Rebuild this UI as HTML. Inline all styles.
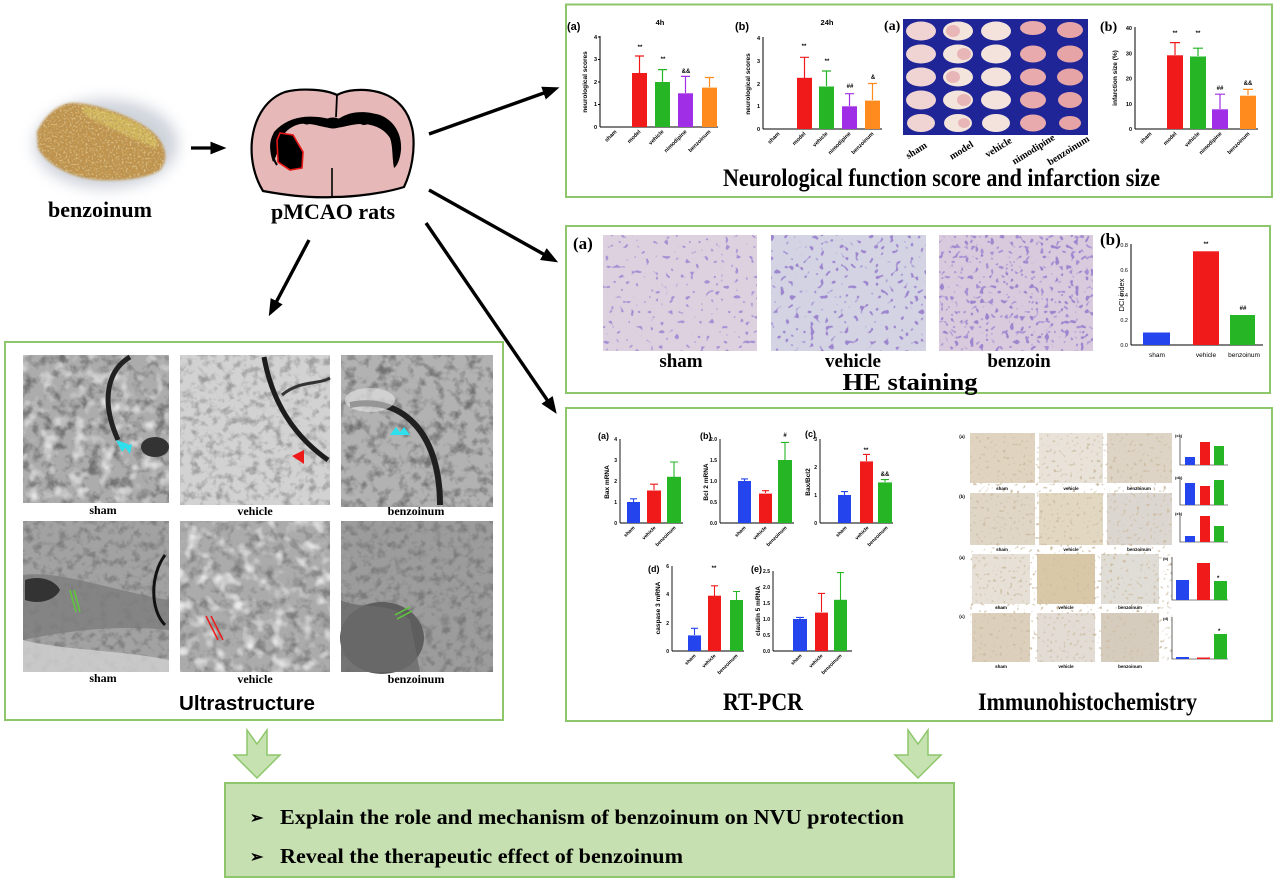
<!DOCTYPE html>
<html><head><meta charset="utf-8"><style>
html,body{margin:0;padding:0;background:#fff;}
svg{display:block;}
.ser{font-family:"Liberation Serif",serif;font-weight:bold;}
.san{font-family:"Liberation Sans",sans-serif;}
</style></head><body>
<svg width="1277" height="886" viewBox="0 0 1277 886" xmlns="http://www.w3.org/2000/svg">
<defs>
<marker id="ah" markerWidth="5" markerHeight="4" refX="3.6" refY="2" orient="auto" markerUnits="strokeWidth"><path d="M0,0 L5,2 L0,4 z" fill="#000"/></marker>
<filter id="blur6" x="-30%" y="-30%" width="160%" height="160%"><feGaussianBlur stdDeviation="7"/></filter>
<filter id="blur1" x="-10%" y="-10%" width="120%" height="120%"><feGaussianBlur stdDeviation="1.2"/></filter>
<filter id="grainTan" x="0" y="0" width="1" height="1"><feTurbulence type="fractalNoise" baseFrequency="0.5" numOctaves="2" seed="4"/><feColorMatrix type="matrix" values="0 0 0 0 0.42  0 0 0 0 0.28  0 0 0 0 0.12  4 0 0 0 -1.9"/><feComposite in2="SourceGraphic" operator="in"/></filter>
<filter id="grainLight" x="0" y="0" width="1" height="1"><feTurbulence type="fractalNoise" baseFrequency="0.5" numOctaves="2" seed="8"/><feColorMatrix type="matrix" values="0 0 0 0 0.92  0 0 0 0 0.80  0 0 0 0 0.45  4 0 0 0 -2.0"/><feComposite in2="SourceGraphic" operator="in"/></filter>
<filter id="emDark" x="0" y="0" width="1" height="1"><feTurbulence type="fractalNoise" baseFrequency="0.09" numOctaves="3" seed="7"/><feColorMatrix type="matrix" values="0 0 0 0 0.1  0 0 0 0 0.1  0 0 0 0 0.1  3 0 0 0 -1.4"/></filter>
<filter id="emDark2" x="0" y="0" width="1" height="1"><feTurbulence type="fractalNoise" baseFrequency="0.12" numOctaves="3" seed="11"/><feColorMatrix type="matrix" values="0 0 0 0 0.15  0 0 0 0 0.15  0 0 0 0 0.15  3 0 0 0 -1.4"/></filter>
<filter id="emLight" x="0" y="0" width="1" height="1"><feTurbulence type="fractalNoise" baseFrequency="0.07" numOctaves="2" seed="3"/><feColorMatrix type="matrix" values="0 0 0 0 0.93  0 0 0 0 0.93  0 0 0 0 0.93  3 0 0 0 -1.5"/></filter>
<filter id="heDots" x="0" y="0" width="1" height="1"><feTurbulence type="fractalNoise" baseFrequency="0.2" numOctaves="1" seed="5"/><feColorMatrix type="matrix" values="0 0 0 0 0.38  0 0 0 0 0.28  0 0 0 0 0.66  14 0 0 0 -9.0"/></filter>
<filter id="heDots2" x="0" y="0" width="1" height="1"><feTurbulence type="fractalNoise" baseFrequency="0.2" numOctaves="1" seed="9"/><feColorMatrix type="matrix" values="0 0 0 0 0.34  0 0 0 0 0.24  0 0 0 0 0.62  14 0 0 0 -8.6"/></filter>
<filter id="ihcDots" x="0" y="0" width="1" height="1"><feTurbulence type="fractalNoise" baseFrequency="0.3" numOctaves="1" seed="2"/><feColorMatrix type="matrix" values="0 0 0 0 0.62  0 0 0 0 0.52  0 0 0 0 0.38  8 0 0 0 -4.9"/></filter>
</defs>

<!-- ================= benzoinum blob ================= -->
<ellipse cx="106" cy="144" rx="72" ry="45" fill="#c3c9d3" filter="url(#blur6)" opacity="0.8"/>
<path d="M37,132 C45,115 60,102 75,103 C95,104 130,115 150,130 C165,142 170,158 160,170 C145,180 110,182 90,179 C65,175 45,162 38,148 Z" fill="#c0934c" filter="url(#blur1)"/>
<path d="M82,106 C100,108 130,116 150,132 C158,140 160,146 156,148 C135,140 110,128 90,118 C84,114 80,110 82,106 Z" fill="#d6bd5c" opacity="0.85" filter="url(#blur1)"/>
<path d="M37,132 C45,115 60,102 75,103 C95,104 130,115 150,130 C165,142 170,158 160,170 C145,180 110,182 90,179 C65,175 45,162 38,148 Z" fill="#000" filter="url(#grainTan)" opacity="0.6"/>
<path d="M37,132 C45,115 60,102 75,103 C95,104 130,115 150,130 C165,142 170,158 160,170 C145,180 110,182 90,179 C65,175 45,162 38,148 Z" fill="#000" filter="url(#grainLight)" opacity="0.5"/>
<text x="100" y="217" class="ser" font-size="22" text-anchor="middle">benzoinum</text>

<!-- small arrow -->
<line x1="191" y1="148" x2="222" y2="148" stroke="#000" stroke-width="3.2" marker-end="url(#ah)"/>

<!-- ================= brain ================= -->
<path d="M337,95 C325,89 300,88 285,92 C268,98 255,115 252,140 C250,160 255,178 263,191 C290,196 315,198 333,197 C355,197 385,193 404,187 C412,170 415,150 413,133 C410,112 398,97 378,92 C362,88 346,90 337,95 Z" fill="#e6b8b8" stroke="#000" stroke-width="2.2"/>
<line x1="337" y1="95" x2="336" y2="117" stroke="#000" stroke-width="1.8"/>
<line x1="332" y1="168" x2="332" y2="197" stroke="#000" stroke-width="1.6"/>
<path d="M273,162 C268,148 270,138 275,131 C285,120 300,115 318,117 C328,118 333,121 340,118 C350,112 362,110 380,115 C395,121 402,135 401,150 C400,160 397,166 394,168 C392,158 393,146 390,138 C384,128 372,124 362,124 C350,124 343,128 333,128 C322,128 312,122 300,124 C288,127 281,135 279,146 C277,153 276,158 273,162 Z" fill="#000"/>
<path d="M279,150 C280,138 288,128 300,126 C312,124 322,130 333,130 C343,130 350,126 362,126 C372,126 382,130 387,138 C391,146 390,156 392,164 C388,156 388,146 384,140 C378,132 370,130 362,131 C350,132 343,135 333,135 C322,135 312,130 302,131 C292,133 285,140 282,148 Z" fill="#e6b8b8"/>
<ellipse cx="333" cy="123" rx="9" ry="5.5" fill="#000"/>
<ellipse cx="307" cy="121" rx="5" ry="3.5" fill="#000"/>
<ellipse cx="364" cy="121" rx="5" ry="4" fill="#000"/>
<path d="M275,132 C270,145 272,158 277,165" fill="none" stroke="#000" stroke-width="2"/>
<path d="M280,133 L293,135 L303,152 L302,168 L290,170 L278,162 L277,140 Z" fill="#000" stroke="#e81515" stroke-width="1.6"/>
<text x="333" y="219" class="ser" font-size="22" text-anchor="middle">pMCAO rats</text>

<!-- black arrows -->
<g stroke="#000" stroke-width="3.4" fill="none">
<line x1="429" y1="134" x2="555" y2="89" marker-end="url(#ah)"/>
<line x1="429" y1="190" x2="554" y2="260" marker-end="url(#ah)"/>
<line x1="426" y1="223" x2="554" y2="410" marker-end="url(#ah)"/>
<line x1="309" y1="240" x2="271" y2="312" marker-end="url(#ah)"/>
</g>

<!-- ================= TOP BOX ================= -->
<rect x="566" y="4.5" width="706" height="192.5" fill="none" stroke="#8dc66b" stroke-width="2"/>

<g class="san" font-weight="bold">
<text x="567" y="30" font-size="11">(a)</text>
<text x="660" y="25" font-size="7.5" text-anchor="middle">4h</text>
<text transform="translate(587,82) rotate(-90)" font-size="6.5" text-anchor="middle">neurological scores</text>
<g font-size="5.5" text-anchor="end">
<text x="597" y="39">4</text><text x="597" y="61">3</text><text x="597" y="84">2</text><text x="597" y="106">1</text><text x="597" y="129">0</text>
</g>
<g stroke="#000" stroke-width="1"><line x1="600" y1="36" x2="600" y2="127"/><line x1="600" y1="127" x2="718" y2="127"/>
<line x1="598" y1="37" x2="600" y2="37"/><line x1="598" y1="59.5" x2="600" y2="59.5"/><line x1="598" y1="82" x2="600" y2="82"/><line x1="598" y1="104.5" x2="600" y2="104.5"/></g>
<rect x="632" y="73" width="15" height="54" fill="#f01a1a"/>
<rect x="655" y="82" width="15" height="45" fill="#25b525"/>
<rect x="678" y="93.3" width="15" height="33.7" fill="#a02ee6"/>
<rect x="702" y="87.6" width="15" height="39.4" fill="#ff8a1e"/>
<g stroke-width="1.2" fill="none">
<path d="M639.5,73 V56 M635,56 H644" stroke="#f01a1a"/>
<path d="M662.5,82 V69.6 M658,69.6 H667" stroke="#25b525"/>
<path d="M685.5,93 V76.4 M681,76.4 H690" stroke="#a02ee6"/>
<path d="M709.5,87 V77.5 M705,77.5 H714" stroke="#ff8a1e"/>
</g>
<g font-size="6" text-anchor="middle"><text x="640" y="49">**</text><text x="663" y="61">**</text><text x="686" y="73">&amp;&amp;</text></g>
<g font-size="5.5" text-anchor="end">
<text transform="translate(617,132) rotate(-45)">sham</text>
<text transform="translate(641,132) rotate(-45)">model</text>
<text transform="translate(664,132) rotate(-45)">vehicle</text>
<text transform="translate(687,132) rotate(-45)">nimodipine</text>
<text transform="translate(711,132) rotate(-45)">benzoinum</text>
</g>
</g>

<g class="san" font-weight="bold">
<text x="735" y="30" font-size="11">(b)</text>
<text x="827" y="25" font-size="7.5" text-anchor="middle">24h</text>
<text transform="translate(750,84) rotate(-90)" font-size="6.5" text-anchor="middle">neurological scores</text>
<g font-size="5.5" text-anchor="end">
<text x="760" y="40">4</text><text x="760" y="63">3</text><text x="760" y="86">2</text><text x="760" y="108">1</text><text x="760" y="131">0</text>
</g>
<g stroke="#000" stroke-width="1"><line x1="763" y1="37" x2="763" y2="129"/><line x1="763" y1="129" x2="882" y2="129"/></g>
<rect x="797" y="77.8" width="15" height="51.2" fill="#f01a1a"/>
<rect x="819" y="86.5" width="15" height="42.5" fill="#25b525"/>
<rect x="842" y="106.3" width="15" height="22.7" fill="#a02ee6"/>
<rect x="865" y="100.6" width="15" height="28.4" fill="#ff8a1e"/>
<g stroke-width="1.2" fill="none">
<path d="M804.5,78 V57.3 M800,57.3 H809" stroke="#f01a1a"/>
<path d="M826.5,86 V71 M822,71 H831" stroke="#25b525"/>
<path d="M849.5,106 V93.7 M845,93.7 H854" stroke="#a02ee6"/>
<path d="M872.5,100 V83.5 M868,83.5 H877" stroke="#ff8a1e"/>
</g>
<g font-size="6" text-anchor="middle"><text x="804" y="48">**</text><text x="827" y="63">**</text><text x="850" y="88">##</text><text x="873" y="79">&amp;</text></g>
<g font-size="5.5" text-anchor="end">
<text transform="translate(780,134) rotate(-45)">sham</text>
<text transform="translate(806,134) rotate(-45)">model</text>
<text transform="translate(828,134) rotate(-45)">vehicle</text>
<text transform="translate(851,134) rotate(-45)">nimodipine</text>
<text transform="translate(874,134) rotate(-45)">benzoinum</text>
</g>
</g>

<!-- TTC image -->
<text x="884" y="30" class="ser" font-size="14">(a)</text>
<rect x="903" y="19" width="185" height="116" fill="#1f2596"/>
<g>
<g fill="#f0d3d3"><ellipse cx="921" cy="31" rx="15" ry="9.5"/><ellipse cx="921" cy="54" rx="15" ry="9.5"/><ellipse cx="921" cy="77" rx="15" ry="9.5"/><ellipse cx="921" cy="100" rx="15" ry="9.5"/><ellipse cx="921" cy="123" rx="14" ry="9"/></g>
<g fill="#f3e4dc"><ellipse cx="958" cy="31" rx="15" ry="9.5"/><ellipse cx="958" cy="54" rx="15" ry="9.5"/><ellipse cx="958" cy="77" rx="15" ry="9.5"/><ellipse cx="958" cy="100" rx="15" ry="9.5"/><ellipse cx="958" cy="123" rx="14" ry="9"/></g>
<g fill="#e9b6b8"><ellipse cx="953" cy="31" rx="7" ry="6"/><ellipse cx="964" cy="54" rx="7" ry="6"/><ellipse cx="953" cy="77" rx="7" ry="6"/><ellipse cx="964" cy="100" rx="7" ry="6"/><ellipse cx="964" cy="123" rx="6" ry="5"/></g>
<g fill="#f3e3dc"><ellipse cx="996" cy="31" rx="15" ry="9.5"/><ellipse cx="996" cy="54" rx="15" ry="9.5"/><ellipse cx="996" cy="77" rx="15" ry="9.5"/><ellipse cx="996" cy="100" rx="15" ry="9.5"/><ellipse cx="996" cy="123" rx="14" ry="9"/></g>
<g fill="#e8aaac"><ellipse cx="1033" cy="28" rx="13" ry="7"/><ellipse cx="1033" cy="54" rx="13" ry="8.5"/><ellipse cx="1033" cy="77" rx="13" ry="8.5"/><ellipse cx="1033" cy="100" rx="13" ry="8.5"/><ellipse cx="1033" cy="123" rx="13" ry="8.5"/></g>
<g fill="#e6a4a6"><ellipse cx="1070" cy="30" rx="13" ry="8"/><ellipse cx="1070" cy="54" rx="13" ry="8.5"/><ellipse cx="1070" cy="77" rx="13" ry="8.5"/><ellipse cx="1070" cy="100" rx="12" ry="8"/><ellipse cx="1070" cy="123" rx="11" ry="7"/></g>
</g>
<g class="ser" font-size="10" text-anchor="middle">
<text transform="translate(918,153) rotate(-32)">sham</text>
<text transform="translate(963,153) rotate(-32)">model</text>
<text transform="translate(1000,150) rotate(-32)">vehicle</text>
<text transform="translate(1035,152) rotate(-32)">nimodipine</text>
<text transform="translate(1070,153) rotate(-32)">benzoinum</text>
</g>

<text x="1100" y="31" class="ser" font-size="14">(b)</text>
<g class="san" font-weight="bold">
<text transform="translate(1117,78) rotate(-90)" font-size="6.5" text-anchor="middle">infarction size (%)</text>
<g font-size="5.5" text-anchor="end">
<text x="1132" y="30">40</text><text x="1132" y="55.3">30</text><text x="1132" y="80.5">20</text><text x="1132" y="105.8">10</text><text x="1132" y="131">0</text>
</g>
<g stroke="#000" stroke-width="1"><line x1="1135" y1="27" x2="1135" y2="129"/><line x1="1135" y1="129" x2="1258" y2="129"/></g>
<rect x="1167" y="55.3" width="16" height="73.7" fill="#f01a1a"/>
<rect x="1190" y="56.5" width="16" height="72.5" fill="#25b525"/>
<rect x="1212" y="109.3" width="16" height="19.7" fill="#a02ee6"/>
<rect x="1240" y="95.7" width="16" height="33.3" fill="#ff8a1e"/>
<g stroke-width="1.2" fill="none">
<path d="M1175,55 V42.6 M1170,42.6 H1180" stroke="#f01a1a"/>
<path d="M1198,56 V48.2 M1193,48.2 H1203" stroke="#25b525"/>
<path d="M1220,109 V94.2 M1215,94.2 H1225" stroke="#a02ee6"/>
<path d="M1248,95 V89.4 M1243,89.4 H1253" stroke="#ff8a1e"/>
</g>
<g font-size="6" text-anchor="middle"><text x="1175" y="35">**</text><text x="1198" y="35">**</text><text x="1220" y="90">##</text><text x="1248" y="85">&amp;&amp;</text></g>
<g font-size="5.5" text-anchor="end">
<text transform="translate(1152,134) rotate(-45)">sham</text>
<text transform="translate(1177,134) rotate(-45)">model</text>
<text transform="translate(1200,134) rotate(-45)">vehicle</text>
<text transform="translate(1222,134) rotate(-45)">nimodipine</text>
<text transform="translate(1250,134) rotate(-45)">benzoinum</text>
</g>
</g>
<text x="723" y="186" class="ser" font-size="25" textLength="437" lengthAdjust="spacingAndGlyphs">Neurological function score and infarction size</text>

<!-- ================= HE BOX ================= -->
<rect x="566" y="226" width="704" height="167" fill="none" stroke="#8dc66b" stroke-width="2"/>
<text x="573" y="249" class="ser" font-size="17">(a)</text>
<rect x="603" y="235" width="154" height="116" fill="#ddd0df"/>
<rect x="603" y="235" width="154" height="116" filter="url(#heDots)"/>
<rect x="771" y="235" width="155" height="116" fill="#d3d3e4"/>
<rect x="771" y="235" width="155" height="116" filter="url(#heDots2)"/>
<rect x="939" y="235" width="154" height="116" fill="#d9cbdd"/>
<rect x="939" y="235" width="154" height="116" filter="url(#heDots2)"/>
<rect x="939" y="235" width="154" height="116" filter="url(#heDots)"/>
<g class="ser" font-size="19" text-anchor="middle">
<text x="681" y="367">sham</text><text x="853" y="367">vehicle</text><text x="1019" y="367">benzoin</text>
</g>
<text x="910" y="390" class="ser" font-size="24" text-anchor="middle" textLength="135" lengthAdjust="spacingAndGlyphs">HE staining</text>
<text x="1100" y="245" class="ser" font-size="17">(b)</text>
<g class="san">
<text transform="translate(1124,295) rotate(-90)" font-size="7.5" text-anchor="middle">DCI index</text>
<g font-size="5.5" text-anchor="end">
<text x="1128" y="247">0.8</text><text x="1128" y="272">0.6</text><text x="1128" y="297">0.4</text><text x="1128" y="322">0.2</text><text x="1128" y="347">0.0</text>
</g>
<g stroke="#000" stroke-width="1"><line x1="1131" y1="244" x2="1131" y2="345"/><line x1="1131" y1="345" x2="1263" y2="345"/></g>
<rect x="1143" y="332.5" width="27" height="12.5" fill="#2445ee"/>
<rect x="1193" y="251.3" width="26" height="93.7" fill="#f01a1a"/>
<rect x="1230" y="315" width="25" height="30" fill="#25b525"/>
<g font-size="6" text-anchor="middle" font-weight="bold"><text x="1206" y="246">**</text><text x="1243" y="310">##</text></g>
<g font-size="6.5" text-anchor="middle"><text x="1157" y="357">sham</text><text x="1206" y="357">vehicle</text><text x="1244" y="357">benzoinum</text></g>
</g>

<!-- ================= ULTRASTRUCTURE BOX ================= -->
<rect x="5" y="342" width="498" height="378" fill="none" stroke="#8dc66b" stroke-width="2"/>
<rect x="23" y="355" width="146" height="148" fill="#acacac"/>
<rect x="23" y="355" width="146" height="148" filter="url(#emDark)" opacity="0.7"/>
<rect x="23" y="355" width="146" height="148" filter="url(#emLight)" opacity="0.8"/>
<path d="M130,357 C108,370 100,400 118,440" fill="none" stroke="#222" stroke-width="5"/>
<ellipse cx="155" cy="447" rx="14" ry="10" fill="#333"/>
<path d="M116,440 l12,4 l-6,8 z M124,446 l8,-2 l-2,10 z" fill="#2ee0ee"/>

<rect x="180" y="355" width="150" height="150" fill="#d2d2d2"/>
<rect x="180" y="355" width="150" height="150" filter="url(#emDark2)" opacity="0.5"/>
<path d="M264,357 C270,390 285,430 328,460" fill="none" stroke="#1c1c1c" stroke-width="5"/>
<path d="M282,395 C300,380 318,385 330,378" fill="none" stroke="#333" stroke-width="3"/>
<path d="M292,456 l12,-6 l0,14 z" fill="#ee1a1a"/>

<rect x="341" y="355" width="152" height="152" fill="#b2b2b2"/>
<rect x="341" y="355" width="152" height="152" filter="url(#emDark)" opacity="0.7"/>
<path d="M350,405 C400,395 440,430 440,505" fill="none" stroke="#202020" stroke-width="6"/>
<ellipse cx="370" cy="400" rx="25" ry="12" fill="#e6e6e6" opacity="0.6"/>
<path d="M390,435 l6,-8 l6,8 z M398,435 l6,-8 l6,8 z" fill="#2ee0ee"/>

<rect x="23" y="521" width="146" height="151" fill="#a2a2a2"/>
<rect x="23" y="521" width="146" height="151" filter="url(#emDark2)" opacity="0.65"/>
<path d="M23,575 C60,570 110,590 169,600 L169,630 C120,625 70,630 23,640 Z" fill="#7d7d7d" opacity="0.8"/>
<path d="M25,580 C40,575 55,580 60,590 C55,600 40,605 25,600 Z" fill="#333"/>
<path d="M23,640 C60,650 120,650 169,660 L169,672 L23,672 Z" fill="#d2d2d2" opacity="0.8"/>
<path d="M165,555 C150,575 150,610 165,625" fill="none" stroke="#111" stroke-width="3"/>
<line x1="70" y1="590" x2="76" y2="612" stroke="#5ecb3a" stroke-width="1.5"/><line x1="74" y1="590" x2="80" y2="612" stroke="#5ecb3a" stroke-width="1.5"/>

<rect x="180" y="521" width="150" height="151" fill="#ababab"/>
<rect x="180" y="521" width="150" height="151" filter="url(#emDark)" opacity="0.55"/>
<rect x="180" y="521" width="150" height="151" filter="url(#emLight)" opacity="0.85"/>
<line x1="206" y1="616" x2="218" y2="640" stroke="#ee1a1a" stroke-width="1.5"/><line x1="211" y1="616" x2="223" y2="640" stroke="#ee1a1a" stroke-width="1.5"/>

<rect x="341" y="521" width="152" height="151" fill="#9c9c9c"/>
<rect x="341" y="521" width="152" height="151" filter="url(#emDark2)" opacity="0.65"/>
<ellipse cx="382" cy="638" rx="42" ry="36" fill="#5e5e5e"/>
<path d="M341,600 C360,610 390,600 410,620 L420,672 L341,672 Z" fill="#6a6a6a" opacity="0.8"/>
<line x1="395" y1="615" x2="410" y2="607" stroke="#5ecb3a" stroke-width="1.5"/><line x1="397" y1="619" x2="412" y2="611" stroke="#5ecb3a" stroke-width="1.5"/>
<g class="ser" font-size="12" text-anchor="middle">
<text x="103" y="514">sham</text><text x="255" y="515">vehicle</text><text x="416" y="515">benzoinum</text>
<text x="103" y="682">sham</text><text x="255" y="683">vehicle</text><text x="416" y="683">benzoinum</text>
</g>
<text x="247" y="710" class="san" font-weight="bold" font-size="20" text-anchor="middle" textLength="136" lengthAdjust="spacingAndGlyphs">Ultrastructure</text>

<!-- ================= RT-PCR / IHC BOX ================= -->
<rect x="566" y="408" width="706" height="313" fill="none" stroke="#8dc66b" stroke-width="2"/>

<g class="san" font-weight="bold">
<text x="598" y="439" font-size="9">(a)</text>
<text transform="translate(609,482) rotate(-90)" font-size="6.5" text-anchor="middle">Bax mRNA</text>
<g font-size="5" text-anchor="end"><text x="617" y="441">4</text><text x="617" y="462">3</text><text x="617" y="483">2</text><text x="617" y="504">1</text><text x="617" y="525">0</text></g>
<g stroke="#000" stroke-width="0.9"><line x1="620" y1="439" x2="620" y2="523"/><line x1="620" y1="523" x2="683" y2="523"/></g>
<rect x="627" y="502" width="13" height="21" fill="#2445ee"/>
<rect x="647" y="490.5" width="14" height="32.5" fill="#f01a1a"/>
<rect x="667" y="476.8" width="14" height="46.2" fill="#25b525"/>
<g stroke-width="1.1" fill="none"><path d="M633.5,502 V498.8 M630,498.8 H637" stroke="#2445ee"/><path d="M654,490 V484.2 M650,484.2 H658" stroke="#f01a1a"/><path d="M674,477 V462 M670,462 H678" stroke="#25b525"/></g>
<g font-size="5" text-anchor="end"><text transform="translate(635,528) rotate(-45)">sham</text><text transform="translate(656,528) rotate(-45)">vehicle</text><text transform="translate(676,528) rotate(-45)">benzoinum</text></g>

<text x="700" y="439" font-size="9">(b)</text>
<text transform="translate(708,482) rotate(-90)" font-size="6.5" text-anchor="middle">Bcl 2 mRNA</text>
<g font-size="5" text-anchor="end"><text x="717" y="441">2.0</text><text x="717" y="462">1.5</text><text x="717" y="483">1.0</text><text x="717" y="504">0.5</text><text x="717" y="525">0.0</text></g>
<g stroke="#000" stroke-width="0.9"><line x1="720" y1="439" x2="720" y2="523"/><line x1="720" y1="523" x2="794" y2="523"/></g>
<rect x="738" y="481" width="13" height="42" fill="#2445ee"/>
<rect x="759" y="493.6" width="13" height="29.4" fill="#f01a1a"/>
<rect x="778" y="460" width="14" height="63" fill="#25b525"/>
<g stroke-width="1.1" fill="none"><path d="M744.5,481 V478.9 M741,478.9 H748" stroke="#2445ee"/><path d="M765.5,493 V490.7 M762,490.7 H769" stroke="#f01a1a"/><path d="M785,460 V442.4 M781,442.4 H789" stroke="#25b525"/></g>
<text x="785" y="437" font-size="6" text-anchor="middle">#</text>
<g font-size="5" text-anchor="end"><text transform="translate(746,528) rotate(-45)">sham</text><text transform="translate(767,528) rotate(-45)">vehicle</text><text transform="translate(787,528) rotate(-45)">benzoinum</text></g>

<text x="805" y="437" font-size="9">(c)</text>
<text transform="translate(810,482) rotate(-90)" font-size="6.5" text-anchor="middle">Bax/Bcl2</text>
<g font-size="5" text-anchor="end"><text x="817" y="441">3</text><text x="817" y="469">2</text><text x="817" y="497">1</text><text x="817" y="525">0</text></g>
<g stroke="#000" stroke-width="0.9"><line x1="820" y1="439" x2="820" y2="523"/><line x1="820" y1="523" x2="893" y2="523"/></g>
<rect x="838" y="495" width="13" height="28" fill="#2445ee"/>
<rect x="860" y="461.4" width="13" height="61.6" fill="#f01a1a"/>
<rect x="878" y="482.4" width="14" height="40.6" fill="#25b525"/>
<g stroke-width="1.1" fill="none"><path d="M844.5,495 V491.6 M841,491.6 H848" stroke="#2445ee"/><path d="M866.5,461 V454.4 M863,454.4 H870" stroke="#f01a1a"/><path d="M885,482 V479.6 M881,479.6 H889" stroke="#25b525"/></g>
<g font-size="6" text-anchor="middle"><text x="866" y="452">**</text><text x="885" y="476">&amp;&amp;</text></g>
<g font-size="5" text-anchor="end"><text transform="translate(847,528) rotate(-45)">sham</text><text transform="translate(869,528) rotate(-45)">vehicle</text><text transform="translate(888,528) rotate(-45)">benzoinum</text></g>

<text x="648" y="572" font-size="9">(d)</text>
<text transform="translate(660,608) rotate(-90)" font-size="6.5" text-anchor="middle">caspase 3 mRNA</text>
<g font-size="5" text-anchor="end"><text x="669" y="568">6</text><text x="669" y="596">4</text><text x="669" y="625">2</text><text x="669" y="653">0</text></g>
<g stroke="#000" stroke-width="0.9"><line x1="672" y1="566" x2="672" y2="651"/><line x1="672" y1="651" x2="744" y2="651"/></g>
<rect x="688" y="635.4" width="13" height="15.6" fill="#2445ee"/>
<rect x="708" y="595.7" width="13" height="55.3" fill="#f01a1a"/>
<rect x="730" y="600" width="13" height="51" fill="#25b525"/>
<g stroke-width="1.1" fill="none"><path d="M694.5,635 V628.3 M691,628.3 H698" stroke="#2445ee"/><path d="M714.5,596 V585.8 M711,585.8 H718" stroke="#f01a1a"/><path d="M736.5,600 V591.5 M733,591.5 H740" stroke="#25b525"/></g>
<text x="714" y="570" font-size="6" text-anchor="middle">**</text>
<g font-size="5" text-anchor="end"><text transform="translate(696,656) rotate(-45)">sham</text><text transform="translate(716,656) rotate(-45)">vehicle</text><text transform="translate(738,656) rotate(-45)">benzoinum</text></g>

<text x="751" y="572" font-size="9">(e)</text>
<text transform="translate(760,611) rotate(-90)" font-size="6.5" text-anchor="middle">claudin 5 mRNA</text>
<g font-size="5" text-anchor="end"><text x="770" y="573">2.5</text><text x="770" y="589">2.0</text><text x="770" y="605">1.5</text><text x="770" y="621">1.0</text><text x="770" y="637">0.5</text><text x="770" y="653">0.0</text></g>
<g stroke="#000" stroke-width="0.9"><line x1="773" y1="571" x2="773" y2="651"/><line x1="773" y1="651" x2="852" y2="651"/></g>
<rect x="793" y="619" width="14" height="32" fill="#2445ee"/>
<rect x="815" y="612.6" width="13" height="38.4" fill="#f01a1a"/>
<rect x="834" y="599.8" width="13" height="51.2" fill="#25b525"/>
<g stroke-width="1.1" fill="none"><path d="M800,619 V617.4 M796,617.4 H804" stroke="#2445ee"/><path d="M821.5,612 V593.4 M818,593.4 H825" stroke="#f01a1a"/><path d="M840.5,600 V572.6 M837,572.6 H844" stroke="#25b525"/></g>
<g font-size="5" text-anchor="end"><text transform="translate(802,656) rotate(-45)">sham</text><text transform="translate(823,656) rotate(-45)">vehicle</text><text transform="translate(842,656) rotate(-45)">benzoinum</text></g>
</g>
<text x="723" y="710" class="ser" font-size="25" textLength="80" lengthAdjust="spacingAndGlyphs">RT-PCR</text>

<!-- IHC -->
<g>
<rect x="970" y="433" width="65" height="50" fill="#e0d4c0"/><rect x="1039" y="433" width="64" height="50" fill="#e8e2d8"/><rect x="1107" y="433" width="65" height="50" fill="#ddd4c6"/>
<rect x="970" y="493" width="65" height="52" fill="#e0d6c6"/><rect x="1039" y="493" width="64" height="52" fill="#e2d8c2"/><rect x="1107" y="493" width="65" height="52" fill="#dcd6d0"/>
<rect x="972" y="554" width="58" height="50" fill="#e6e0d6"/><rect x="1037" y="554" width="58" height="50" fill="#d8c8a8"/><rect x="1101" y="554" width="58" height="50" fill="#e0dcd6"/>
<rect x="972" y="613" width="58" height="49" fill="#dcd0bc"/><rect x="1037" y="613" width="58" height="49" fill="#e2dcd4"/><rect x="1101" y="613" width="58" height="49" fill="#d6ccbe"/>
<g filter="url(#ihcDots)">
<rect x="970" y="433" width="65" height="50"/><rect x="1107" y="433" width="65" height="50"/>
<rect x="970" y="493" width="65" height="52"/><rect x="1039" y="493" width="64" height="52"/><rect x="1107" y="493" width="65" height="52"/>
<rect x="1037" y="554" width="58" height="50"/>
<rect x="972" y="613" width="58" height="49"/><rect x="1101" y="613" width="58" height="49"/>
</g>
</g>
<g class="san" font-size="4.5" font-weight="bold" text-anchor="middle">
<text x="962" y="438">(a)</text><text x="962" y="498">(b)</text><text x="962" y="559">(a)</text><text x="962" y="618">(c)</text>
<text x="1002" y="490">sham</text><text x="1071" y="490">vehicle</text><text x="1139" y="490">benzoinum</text>
<text x="1002" y="551">sham</text><text x="1071" y="551">vehicle</text><text x="1139" y="551">benzoinum</text>
<text x="1001" y="609">sham</text><text x="1066" y="609">vehicle</text><text x="1130" y="609">benzoinum</text>
<text x="1001" y="668">sham</text><text x="1066" y="668">vehicle</text><text x="1130" y="668">benzoinum</text>
</g>
<g stroke="#000" stroke-width="0.6" fill="none">
<path d="M1180,435 V465 H1228"/><path d="M1180,477 V505 H1228"/><path d="M1180,513 V542 H1228"/>
<path d="M1172,557 V600 H1228"/><path d="M1172,617 V659 H1228"/>
</g>
<g>
<rect x="1185" y="457" width="10" height="8" fill="#2445ee"/><rect x="1200" y="442" width="10" height="23" fill="#f01a1a"/><rect x="1214" y="446" width="10" height="19" fill="#25b525"/>
<rect x="1185" y="483" width="10" height="22" fill="#2445ee"/><rect x="1200" y="486" width="10" height="19" fill="#f01a1a"/><rect x="1214" y="480" width="10" height="25" fill="#25b525"/>
<rect x="1185" y="536" width="10" height="6" fill="#2445ee"/><rect x="1200" y="516" width="10" height="26" fill="#f01a1a"/><rect x="1214" y="526" width="10" height="16" fill="#25b525"/>
<rect x="1176" y="580" width="13" height="20" fill="#2445ee"/><rect x="1197" y="563" width="13" height="37" fill="#f01a1a"/><rect x="1214" y="581" width="13" height="19" fill="#25b525"/>
<rect x="1176" y="657" width="13" height="2" fill="#2445ee"/><rect x="1197" y="657.5" width="13" height="1.5" fill="#f01a1a"/><rect x="1214" y="634" width="13" height="25" fill="#25b525"/>
</g>
<g class="san" font-size="4" font-weight="bold">
<text x="1175" y="437">(c1)</text><text x="1175" y="479">(d1)</text><text x="1175" y="515">(e1)</text><text x="1163" y="560">(b)</text><text x="1163" y="620">(d)</text>
<text x="1218" y="633" font-size="6">*</text><text x="1217" y="580" font-size="6">*</text>
</g>
<text x="978" y="710" class="ser" font-size="25" textLength="219" lengthAdjust="spacingAndGlyphs">Immunohistochemistry</text>

<!-- ================= bottom green arrows & box ================= -->
<g fill="#c6e2b0" stroke="#8dc66b" stroke-width="1.5" stroke-linejoin="miter">
<path d="M247,730 L257,744 L267,730 L267,755 L280,755 L257,778 L234,755 L247,755 Z"/>
<path d="M908,730 L918,744 L928,730 L928,755 L941,755 L918,778 L895,755 L908,755 Z"/>
</g>
<rect x="225" y="783" width="729" height="94" fill="#c6e0b1" stroke="#8dc66b" stroke-width="2"/>
<g class="ser" font-size="21">
<text x="250" y="823" font-size="16">➢</text>
<text x="280" y="824" textLength="624" lengthAdjust="spacingAndGlyphs">Explain the role and mechanism of benzoinum on NVU protection</text>
<text x="250" y="862" font-size="16">➢</text>
<text x="280" y="863" textLength="403" lengthAdjust="spacingAndGlyphs">Reveal the therapeutic effect of benzoinum</text>
</g>
</svg>
</body></html>
